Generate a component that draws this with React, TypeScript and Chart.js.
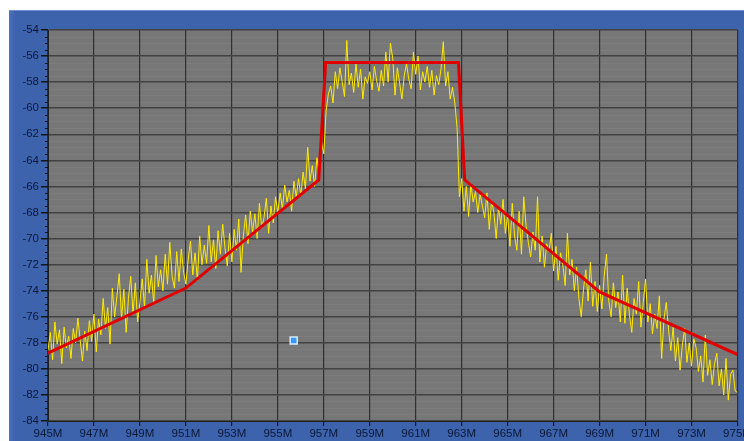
import React, { useEffect, useRef } from "react";
import { Chart, registerables } from "chart.js";

Chart.register(...registerables);

// Sweep sampling of the measured trace
const freqStartMHz = 945;
const freqStepMHz = 0.1;

// Measured spectrum trace (dBm), one value every 0.1 MHz from 945 to 975 MHz
const traceDb = [
  -78.6, -77.2, -79.3, -76.4, -78.1, -77.0, -79.6, -76.8, -78.4, -77.5,
  -79.2, -76.9, -78.0, -76.1, -77.8, -79.4, -77.1, -78.6, -76.3, -77.9,
  -75.8, -78.7, -76.2, -77.4, -74.6, -76.9, -75.3, -78.1, -73.8, -76.0,
  -74.4, -72.7, -76.2, -73.9, -77.2, -74.6, -72.9, -75.8, -73.4, -76.4,
  -74.9, -73.1, -75.3, -71.6, -74.2, -72.8, -75.0, -71.3, -73.7, -72.4,
  -74.0, -71.2, -73.5, -70.3, -72.9, -73.8, -71.0, -73.3, -70.8, -72.6,
  -73.5, -71.6, -70.2, -72.8, -71.1, -73.2, -69.8, -72.0, -70.5, -71.9,
  -69.0, -71.8, -70.1, -72.3, -69.4, -71.2, -68.9, -70.7, -72.1, -69.6,
  -71.8, -69.3, -70.9, -68.5, -72.6, -69.8, -68.2, -70.4, -67.9, -69.5,
  -68.1, -70.0, -67.3, -69.2, -68.4, -66.9, -69.6, -67.5, -68.8, -66.8,
  -68.0, -66.5, -67.7, -65.9, -67.2, -66.3, -67.9, -65.6, -66.8, -65.4,
  -66.7, -64.9, -66.2, -63.0, -65.6, -64.4, -66.0, -63.8, -64.9, -62.6,
  -63.5, -60.2, -58.9, -58.3, -59.6, -57.2, -58.5, -56.9, -58.0, -59.1,
  -54.8, -58.2, -57.3, -58.8, -56.6, -58.4, -57.0, -59.3, -57.6, -58.1,
  -57.2, -58.6, -56.8, -57.9, -58.7, -57.1, -58.3, -55.7, -58.0, -55.0,
  -56.2, -59.0, -56.9, -58.1, -59.3, -57.5, -56.6, -57.8, -58.5, -55.7,
  -57.4, -56.0, -58.6, -57.2, -58.0, -56.8, -58.4, -57.1, -59.0, -57.5,
  -58.2, -57.0, -54.9, -58.3, -57.2, -59.3, -58.4, -59.6, -61.5, -66.8,
  -65.4, -67.9, -66.0, -68.3, -65.8, -67.2, -66.4, -68.0, -66.6, -67.5,
  -68.4, -66.5, -69.3, -67.1, -68.0, -70.0, -67.6, -68.9, -67.0, -69.6,
  -68.2, -70.6, -67.3, -69.8, -70.9, -67.9, -71.2, -66.8, -69.0, -70.3,
  -71.4, -69.5, -70.9, -66.8, -71.8, -69.8, -72.2, -70.4, -71.0, -69.6,
  -72.5, -70.6, -73.2, -71.1, -72.0, -73.6, -69.6, -72.8, -71.6, -74.0,
  -72.2, -74.6, -76.0, -73.9, -72.4, -74.8, -71.8, -75.2, -73.3, -75.6,
  -73.6, -75.4, -72.9, -71.2, -74.8, -76.0, -73.4, -75.3, -74.1, -76.4,
  -72.8, -76.5, -73.8, -75.9, -77.2, -74.6, -75.8, -73.3, -76.8, -74.9,
  -73.1, -76.4, -75.0, -77.3, -75.8, -76.9, -74.4, -79.2, -76.2, -74.9,
  -77.0, -78.6, -76.8, -79.4, -77.6, -80.1, -78.2, -76.9, -79.5, -78.0,
  -79.8, -77.7, -78.4, -80.2, -79.0, -81.0, -77.4, -80.5, -79.3, -81.2,
  -79.6, -78.8, -81.3, -80.0, -82.0, -79.2, -82.4, -80.4, -80.1, -81.7,
  -81.8,
];

// Spectrum emission mask (red)
const maskFreq = [945, 951, 956.78, 957.08, 962.86, 963.13, 969, 975];
const maskDb = [-78.8, -73.8, -65.5, -56.5, -56.5, -65.5, -74.1, -78.9];

// Blue marker
const markerFreq = [955.69];
const markerDb = [-77.83];

// Axes
const xMin = 945;
const xMax = 975;
const xStep = 2;
const yMin = -84;
const yMax = -54;
const yStep = 2;
const yMinorStep = 0.5;

const FONT = "'Liberation Sans', 'DejaVu Sans', sans-serif";

const bgPlugin = {
  id: "plotBg",
  beforeDraw(chart: any) {
    const { ctx, chartArea } = chart;
    const y = chart.scales.y;
    ctx.save();
    ctx.fillStyle = "#777777";
    ctx.fillRect(chartArea.left, chartArea.top, chartArea.right - chartArea.left, chartArea.bottom - chartArea.top);
    ctx.strokeStyle = "rgba(255,255,255,0.05)";
    ctx.lineWidth = 1;
    for (let v = yMin; v <= yMax; v += yMinorStep) {
      if (Math.abs(v % yStep) < 1e-6) continue;
      const py = Math.round(y.getPixelForValue(v)) + 0.5;
      ctx.beginPath();
      ctx.moveTo(chartArea.left, py);
      ctx.lineTo(chartArea.right, py);
      ctx.stroke();
    }
    ctx.restore();
  },
  afterDraw(chart: any) {
    const { ctx, chartArea } = chart;
    const y = chart.scales.y;
    ctx.save();
    ctx.strokeStyle = "#151515";
    ctx.lineWidth = 1;
    for (let v = yMin; v <= yMax; v += yMinorStep) {
      if (Math.abs(v % yStep) < 1e-6) continue;
      const py = Math.round(y.getPixelForValue(v)) + 0.5;
      ctx.beginPath();
      ctx.moveTo(chartArea.left - 3, py);
      ctx.lineTo(chartArea.left, py);
      ctx.stroke();
    }
    ctx.restore();
  },
};

export default function App() {
  const ref = useRef<HTMLCanvasElement | null>(null);

  useEffect(() => {
    if (!ref.current) return;
    const traceData = traceDb.map((v, i) => ({ x: freqStartMHz + i * freqStepMHz, y: v }));
    const maskData = maskFreq.map((f, i) => ({ x: f, y: maskDb[i] }));
    const markerData = markerFreq.map((f, i) => ({ x: f, y: markerDb[i] }));

    const chart = new Chart(ref.current, {
      type: "line",
      data: {
        datasets: [
          {
            label: "marker",
            data: markerData,
            showLine: false,
            pointStyle: "rect",
            pointRadius: 5,
            backgroundColor: "#3399ff",
            borderColor: "#d6eaff",
            borderWidth: 1.5,
            order: 0,
          },
          {
            label: "mask",
            data: maskData,
            borderColor: "#e00000",
            borderWidth: 3,
            pointRadius: 0,
            tension: 0,
            fill: false,
            order: 1,
          },
          {
            label: "trace",
            data: traceData,
            borderColor: "#ffea00",
            borderWidth: 1,
            pointRadius: 0,
            tension: 0,
            fill: false,
            order: 2,
          },
        ],
      },
      options: {
        responsive: false,
        animation: false,
        devicePixelRatio: 1,
        layout: { padding: { top: 19, right: 2, left: 0, bottom: 0 } },
        plugins: { legend: { display: false }, tooltip: { enabled: false } },
        scales: {
          x: {
            type: "linear",
            min: xMin,
            max: xMax,
            afterFit(scale: any) {
              scale.height = 20;
              scale.paddingLeft = 0;
              scale.paddingRight = 0;
            },
            ticks: {
              stepSize: xStep,
              autoSkip: false,
              maxRotation: 0,
              padding: 1,
              color: "#0c1838",
              font: { family: FONT, size: 11.5 },
              callback: (v: any) => `${v}M`,
            },
            grid: {
              color: "#303030",
              lineWidth: 1.2,
              tickColor: "#151515",
              tickLength: 5,
            },
            border: { color: "#202020", width: 1 },
          },
          y: {
            type: "linear",
            min: yMin,
            max: yMax,
            afterFit(scale: any) {
              scale.width = 39;
              scale.paddingTop = 0;
              scale.paddingBottom = 0;
            },
            ticks: {
              stepSize: yStep,
              padding: 2,
              color: "#0c1838",
              font: { family: FONT, size: 11.5 },
              callback: (v: any) => `${v}`,
            },
            grid: {
              color: "#424242",
              lineWidth: 1.5,
              tickColor: "#151515",
              tickLength: 7,
            },
            border: { color: "#202020", width: 1 },
          },
        },
      },
      plugins: [bgPlugin],
    } as any);
    return () => chart.destroy();
  }, []);

  return (
    <div style={{ position: "absolute", left: 0, top: 0, width: 744, height: 441, background: "#ffffff", overflow: "hidden" }}>
      <div
        style={{
          position: "absolute",
          left: 9,
          top: 10,
          width: 735,
          height: 431,
          background: "linear-gradient(to right, #4a72c0 0px, #3d63ad 6px)",
          borderTop: "1px solid #6f8fcf",
          boxSizing: "border-box",
        }}
      >
        <canvas ref={ref} width={735} height={430} style={{ display: "block", width: 735, height: 430 }} />
      </div>
    </div>
  );
}
